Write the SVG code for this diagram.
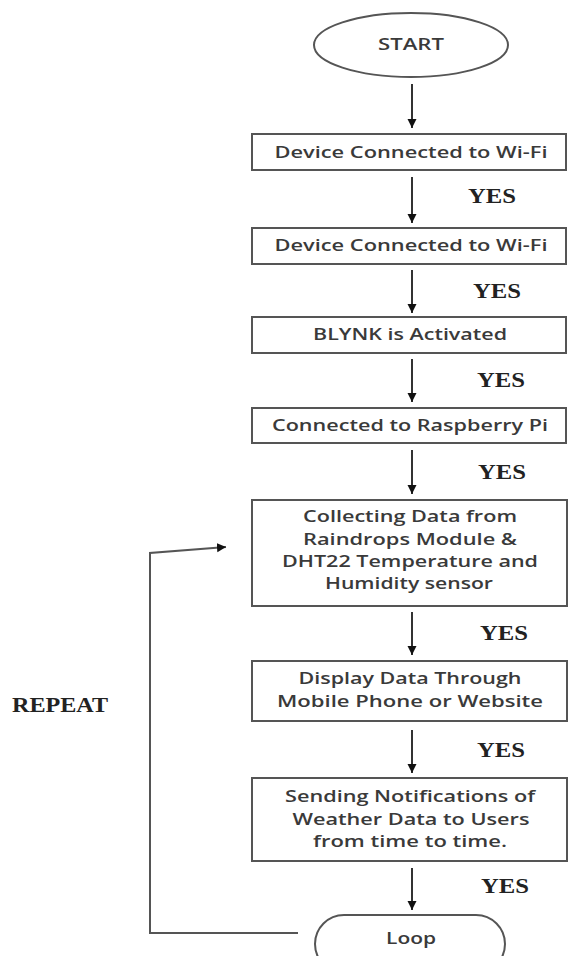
<svg xmlns="http://www.w3.org/2000/svg" width="570" height="956" viewBox="0 0 570 956">
<style>
.box{fill:#fff;stroke:#555;stroke-width:2}
.t{font-family:"Open Sans","Liberation Sans",sans-serif;font-weight:600;font-size:17px;fill:#3a3a3a;text-anchor:middle}
.y{font-family:"Liberation Serif","Times New Roman",serif;font-weight:bold;font-size:21px;fill:#222}
.c{stroke:#333;stroke-width:2;fill:none}
</style>
<defs>
<marker id="ah" markerUnits="userSpaceOnUse" markerWidth="10" markerHeight="10" refX="9" refY="5" orient="auto">
<path d="M0,0.5 L9,5 L0,9.5 Z" fill="#111"/>
</marker>
</defs>
<rect width="570" height="956" fill="#fff"/>
<g id="connectors">
<line class="c" x1="412" y1="84" x2="412" y2="128" marker-end="url(#ah)"/>
<line class="c" x1="412" y1="177" x2="412" y2="223" marker-end="url(#ah)"/>
<line class="c" x1="412" y1="270" x2="412" y2="313" marker-end="url(#ah)"/>
<line class="c" x1="412" y1="359" x2="412" y2="402" marker-end="url(#ah)"/>
<line class="c" x1="412" y1="450" x2="412" y2="494" marker-end="url(#ah)"/>
<line class="c" x1="412" y1="612" x2="412" y2="655" marker-end="url(#ah)"/>
<line class="c" x1="412" y1="730" x2="412" y2="773" marker-end="url(#ah)"/>
<line class="c" x1="412" y1="868" x2="412" y2="910" marker-end="url(#ah)"/>
<polyline class="c" style="stroke:#555" points="298,933 150,933 150,553 226,547" marker-end="url(#ah)"/>
</g>
<g id="labels">
<text class="y" x="468" y="203" textLength="48" lengthAdjust="spacingAndGlyphs">YES</text>
<text class="y" x="473" y="298" textLength="48" lengthAdjust="spacingAndGlyphs">YES</text>
<text class="y" x="477" y="387" textLength="48" lengthAdjust="spacingAndGlyphs">YES</text>
<text class="y" x="478" y="479" textLength="48" lengthAdjust="spacingAndGlyphs">YES</text>
<text class="y" x="480" y="640" textLength="48" lengthAdjust="spacingAndGlyphs">YES</text>
<text class="y" x="477" y="757" textLength="48" lengthAdjust="spacingAndGlyphs">YES</text>
<text class="y" x="481" y="893" textLength="48" lengthAdjust="spacingAndGlyphs">YES</text>
<text class="y" x="12" y="712" textLength="96" lengthAdjust="spacingAndGlyphs">REPEAT</text>
</g>
<g id="start">
<ellipse class="box" cx="411" cy="45" rx="97" ry="32"/>
<text class="t" x="411" y="50" textLength="66" lengthAdjust="spacingAndGlyphs">START</text>
</g>
<g id="wifi1">
<rect class="box" x="252" y="134" width="314" height="36"/>
<text class="t" x="411" y="158" textLength="273" lengthAdjust="spacingAndGlyphs">Device Connected to Wi-Fi</text>
</g>
<g id="wifi2">
<rect class="box" x="252" y="228" width="314" height="36"/>
<text class="t" x="411" y="251" textLength="273" lengthAdjust="spacingAndGlyphs">Device Connected to Wi-Fi</text>
</g>
<g id="blynk">
<rect class="box" x="252" y="317" width="314" height="36"/>
<text class="t" x="410" y="340" textLength="194" lengthAdjust="spacingAndGlyphs">BLYNK is Activated</text>
</g>
<g id="rpi">
<rect class="box" x="252" y="408" width="314" height="35"/>
<text class="t" x="410" y="431" textLength="276" lengthAdjust="spacingAndGlyphs">Connected to Raspberry Pi</text>
</g>
<g id="collect">
<rect class="box" x="252" y="500" width="315" height="106"/>
<text class="t" x="410" y="522" textLength="214" lengthAdjust="spacingAndGlyphs">Collecting Data from</text>
<text class="t" x="410" y="545" textLength="214" lengthAdjust="spacingAndGlyphs">Raindrops Module &amp;</text>
<text class="t" x="410" y="567" textLength="256" lengthAdjust="spacingAndGlyphs">DHT22 Temperature and</text>
<text class="t" x="409" y="589" textLength="168" lengthAdjust="spacingAndGlyphs">Humidity sensor</text>
</g>
<g id="display">
<rect class="box" x="252" y="661" width="315" height="60"/>
<text class="t" x="410" y="684" textLength="223" lengthAdjust="spacingAndGlyphs">Display Data Through</text>
<text class="t" x="410" y="707" textLength="266" lengthAdjust="spacingAndGlyphs">Mobile Phone or Website</text>
</g>
<g id="notify">
<rect class="box" x="252" y="778" width="315" height="83"/>
<text class="t" x="410" y="802" textLength="250" lengthAdjust="spacingAndGlyphs">Sending Notifications of</text>
<text class="t" x="411" y="825" textLength="237" lengthAdjust="spacingAndGlyphs">Weather Data to Users</text>
<text class="t" x="410" y="847" textLength="194" lengthAdjust="spacingAndGlyphs">from time to time.</text>
</g>
<g id="loop">
<rect class="box" x="315" y="915" width="190" height="58" rx="29"/>
<text class="t" x="411" y="944" textLength="50" lengthAdjust="spacingAndGlyphs">Loop</text>
</g>
</svg>
